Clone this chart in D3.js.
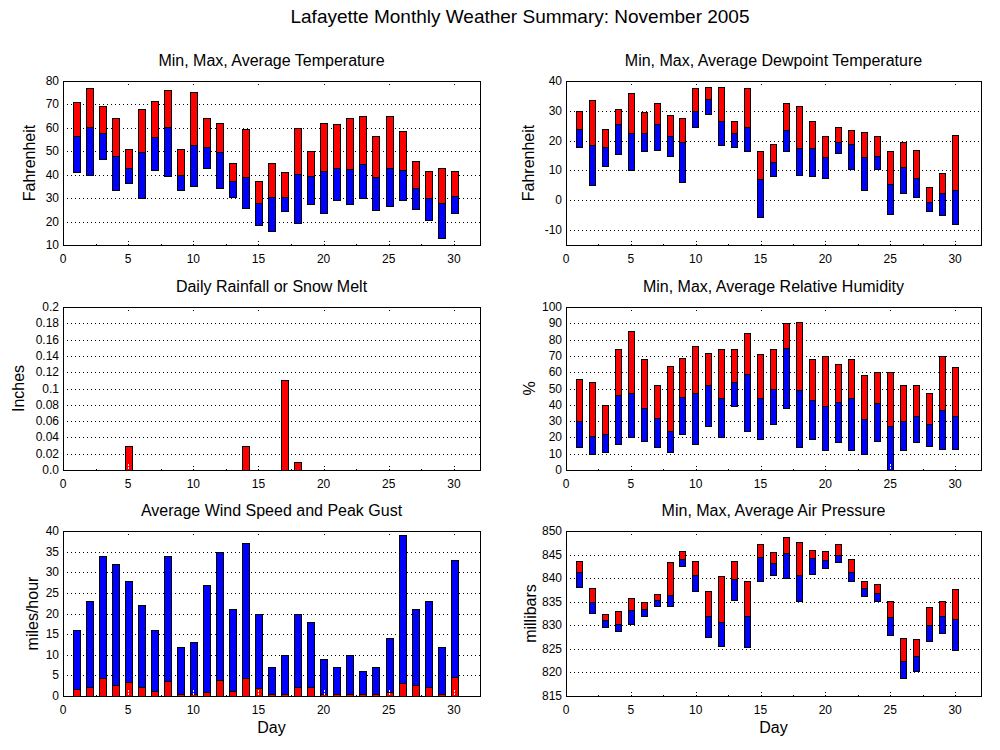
<!DOCTYPE html>
<html>
<head>
<meta charset="utf-8">
<script src="https://cdn.jsdelivr.net/npm/d3@7"></script>
<style>
  body { margin: 0; background: #fff; }
  text { font-family: "Liberation Sans", Arial, sans-serif; fill: #000; }
</style>
</head>
<body>
<script>
const days = [1,2,3,4,5,6,7,8,9,10,11,12,13,14,15,16,17,18,19,20,21,22,23,24,25,26,27,28,29,30];

const tempMax = [71,77,69.5,64,51,68,71.5,76,51,75.5,64,62,45,59.5,37.5,45,41,60,50,62,61.5,64,65,56.5,65,58.5,46,41.5,43,41.5];
const tempAvg = [56.5,60.5,58,48,43,49.5,56,60.5,40,52.5,52,49.5,37.5,39,28,30.5,30.5,40.5,39.5,41.5,43,42.5,44.5,39,43,42,34.5,30,28,31];
const tempMin = [41,40,46.5,33.5,36.5,30,42,39.5,33.5,35,43,34.5,30.5,26,18.5,16,24.5,19.5,27.5,23.5,29,27.5,30,25,26.5,29,25.5,20.5,13,23.5];

const dewMax = [30,33.5,24,30.5,36,29.5,32.5,28.5,27.5,37.5,38,38,26.5,37.5,16.5,19,32.5,31.5,26.5,21.5,24.5,23.5,23,21.5,16.5,19.5,17,4.5,9,22];
const dewAvg = [24,18.5,18,25.5,22.5,22.5,25.5,21.5,19.5,30,34,26.5,22.5,24.5,7,13,23.5,17.5,17.5,14.5,19.5,19,14.5,15,5.5,11,7.5,-0.5,2.5,3.5];
const dewMin = [18,5,11.5,15.5,10,16.5,17,15,6,24.5,29,18.5,18,16.5,-5.5,8,16.5,8.5,8,7.5,16,10.5,3.5,10.5,-4.5,2.5,1,-3.5,-5,-8];

const rain = [0,0,0,0,0.03,0,0,0,0,0,0,0,0,0.03,0,0,0.11,0.01,0,0,0,0,0,0,0,0,0,0,0,0];

const humMax = [56,54,40,74,85,68,52,64,69,76,72,74,74,84,71,74,90,91,68,70,65,68,58,60,60,52,52,47,70,63];
const humAvg = [30,21,22,46,47,38,32,24,45,47,52,44,54,59,44,50,75,49,43,39,42,44,31,41,27,30,33,28,37,33];
const humMin = [14,10,11,16,20,18,14,11,22,16,27,20,39,24,19,28,38,14,19,12,17,12,10,18,0,12,17,15,13,13];

const windAvg = [1.6,2.1,4.3,2.6,3.3,2.1,1.1,3.6,0.4,0.4,0.9,4,1.1,4.3,1.9,0.4,0.4,2.1,2.1,0.4,0.4,0.4,0.4,0.4,0.9,3.1,2.6,2.3,0.6,4.5];
const windGust = [16,23,34,32,28,22,16,34,12,13,27,35,21,37,20,7,10,20,18,9,7,10,6,7,14,39,21,23,12,33];

const presMax = [843.7,837.9,832.4,833,835.8,834.9,836.7,843.5,845.8,843.7,837.3,840.5,843.7,839.4,847.3,845.6,848.8,847.7,846,845.8,847.3,844.1,839.4,838.8,835.2,827.3,827.1,833.9,835.2,837.7];
const presAvg = [841.3,835,831.1,830.3,833.2,833.5,835.4,836.4,844.1,840.7,832,830.7,839.8,832,844.5,843.3,845.4,840.7,844.3,843.9,845,841.3,837.9,836.9,831.8,822.4,823.4,830.1,832,831.3];
const presMin = [838.1,832.6,829.6,828.8,830.3,832,834.1,834.1,842.6,837.3,827.5,825.6,835.4,825.4,839.4,840.7,840.1,835.2,840.9,842.2,843.5,839.4,836.2,835.2,827.9,818.8,820.3,826.6,828.3,824.7];

const xTicks = [0,5,10,15,20,25,30];
const tempTicks = [10,20,30,40,50,60,70,80];
const dewTicks = [-10,0,10,20,30,40];
const rainTicks = [0,0.02,0.04,0.06,0.08,0.1,0.12,0.14,0.16,0.18,0.2];
const rainTickLabels = ["0.0","0.02","0.04","0.06","0.08","0.1","0.12","0.14","0.16","0.18","0.2"];
const humTicks = [0,10,20,30,40,50,60,70,80,90,100];
const windTicks = [0,5,10,15,20,25,30,35,40];
const presTicks = [815,820,825,830,835,840,845,850];

const W = 1000, H = 750;
const svg = d3.select("body").append("svg")
  .attr("width", W).attr("height", H);

svg.append("text")
  .attr("x", 520).attr("y", 23)
  .attr("text-anchor", "middle")
  .style("font-size", "19px")
  .text("Lafayette Monthly Weather Summary: November 2005");

const cols = [[63, 480], [566, 981]];
const rows = [[81, 245], [307, 470], [531, 696]];

function panel(o) {
  const [x0, x1] = cols[o.col], [y0, y1] = rows[o.row];
  const x = d3.scaleLinear().domain([0, 32]).range([x0, x1]);
  const y = d3.scaleLinear().domain(o.domain).range([y1, y0]);
  const g = svg.append("g").attr("shape-rendering", "crispEdges");

  // dotted grid
  g.selectAll("line.grid")
    .data(o.ticks.filter(t => t !== o.domain[0] && t !== o.domain[1]))
    .enter().append("line")
      .attr("x1", x0).attr("x2", x1)
      .attr("y1", d => Math.round(y(d)) + 0.5).attr("y2", d => Math.round(y(d)) + 0.5)
      .attr("stroke", "#000").attr("stroke-dasharray", "1,3");

  // x minor/major ticks, top and bottom, dotted
  const xt = d3.range(0, 32, 2.5);
  [y0, y1].forEach((edge, i) => {
    g.selectAll(null).data(xt).enter().append("line")
      .attr("x1", d => Math.round(x(d)) + 0.5).attr("x2", d => Math.round(x(d)) + 0.5)
      .attr("y1", edge)
      .attr("y2", d => edge + (i ? -1 : 1) * (d % 5 === 0 ? 6 : 2))
      .attr("stroke", "#000").attr("stroke-dasharray", "1,2");
  });

  const hw = (x(0.5) - x(0)) / 2;
  o.segs.forEach(s => {
    g.selectAll(null)
      .data(days.map((d, i) => ({ d, lo: s.lo[i], hi: s.hi[i] })).filter(v => v.hi > v.lo))
      .enter().append("rect")
        .attr("x", v => Math.round(x(v.d) - hw) + 0.5)
        .attr("width", Math.round(2 * hw))
        .attr("y", v => Math.round(y(v.hi)) + 0.5)
        .attr("height", v => Math.max(1, Math.round(y(v.lo)) - Math.round(y(v.hi))))
        .attr("fill", s.color)
        .attr("stroke", "#000").attr("stroke-width", 1);
  });

  // bottom major ticks show through bars sitting on the axis (drawn white)
  const base = o.segs[o.segs.length - 1];
  g.selectAll(null)
    .data(xTicks.filter(t => {
      const i = days.indexOf(t);
      return i >= 0 && base.lo[i] === o.domain[0] && base.hi[i] > base.lo[i];
    }))
    .enter().append("line")
      .attr("x1", d => Math.round(x(d)) + 0.5).attr("x2", d => Math.round(x(d)) + 0.5)
      .attr("y1", y1 - 1).attr("y2", y1 - 6)
      .attr("stroke", "#fff").attr("stroke-dasharray", "2,1");

  g.append("rect")
    .attr("x", x0 + 0.5).attr("y", y0 + 0.5)
    .attr("width", x1 - x0).attr("height", y1 - y0)
    .attr("fill", "none").attr("stroke", "#000");

  // tick labels
  svg.append("g").selectAll("text")
    .data(o.ticks).enter().append("text")
      .attr("x", x0 - 4).attr("y", d => y(d) + 4)
      .attr("text-anchor", "end")
      .style("font-size", "12px")
      .text((d, i) => o.labels ? o.labels[i] : d);
  svg.append("g").selectAll("text")
    .data(xTicks).enter().append("text")
      .attr("x", d => x(d)).attr("y", y1 + 18)
      .attr("text-anchor", "middle")
      .style("font-size", "12px")
      .text(d => d);

  svg.append("text")
    .attr("x", (x0 + x1) / 2).attr("y", y0 - 15)
    .attr("text-anchor", "middle")
    .style("font-size", "16px")
    .text(o.title);

  svg.append("text")
    .attr("transform", `translate(${o.ylx},${(y0 + y1) / 2}) rotate(-90)`)
    .attr("text-anchor", "middle")
    .style("font-size", "16px")
    .text(o.ylabel);

  if (o.row === 2) {
    svg.append("text")
      .attr("x", (x0 + x1) / 2).attr("y", y1 + 37)
      .attr("text-anchor", "middle")
      .style("font-size", "16px")
      .text("Day");
  }
}

const RED = "#ff0000", BLUE = "#0000ff";

panel({ col: 0, row: 0, domain: [10, 80], ticks: tempTicks,
  title: "Min, Max, Average Temperature", ylabel: "Fahrenheit", ylx: 35,
  segs: [{ lo: tempAvg, hi: tempMax, color: RED }, { lo: tempMin, hi: tempAvg, color: BLUE }] });

panel({ col: 1, row: 0, domain: [-15, 40], ticks: dewTicks,
  title: "Min, Max, Average Dewpoint Temperature", ylabel: "Fahrenheit", ylx: 534,
  segs: [{ lo: dewAvg, hi: dewMax, color: RED }, { lo: dewMin, hi: dewAvg, color: BLUE }] });

panel({ col: 0, row: 1, domain: [0, 0.2], ticks: rainTicks, labels: rainTickLabels,
  title: "Daily Rainfall or Snow Melt", ylabel: "Inches", ylx: 24,
  segs: [{ lo: days.map(() => 0), hi: rain, color: RED }] });

panel({ col: 1, row: 1, domain: [0, 100], ticks: humTicks,
  title: "Min, Max, Average Relative Humidity", ylabel: "%", ylx: 535,
  segs: [{ lo: humAvg, hi: humMax, color: RED }, { lo: humMin, hi: humAvg, color: BLUE }] });

panel({ col: 0, row: 2, domain: [0, 40], ticks: windTicks,
  title: "Average Wind Speed and Peak Gust", ylabel: "miles/hour", ylx: 38,
  segs: [{ lo: windAvg, hi: windGust, color: BLUE }, { lo: days.map(() => 0), hi: windAvg, color: RED }] });

panel({ col: 1, row: 2, domain: [815, 850], ticks: presTicks,
  title: "Min, Max, Average Air Pressure", ylabel: "millibars", ylx: 536,
  segs: [{ lo: presAvg, hi: presMax, color: RED }, { lo: presMin, hi: presAvg, color: BLUE }] });
</script>
</body>
</html>
